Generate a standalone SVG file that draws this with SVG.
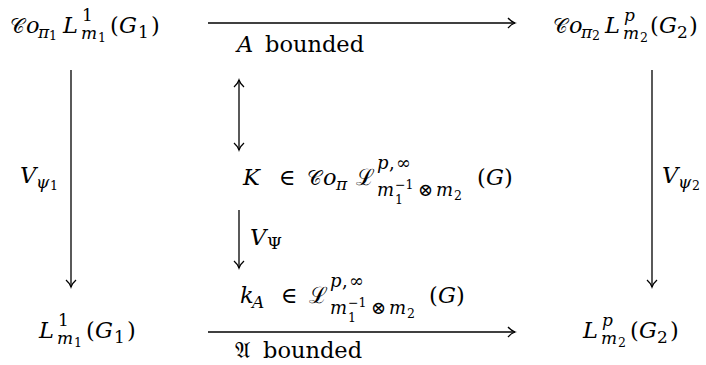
<svg xmlns="http://www.w3.org/2000/svg" width="706" height="365" viewBox="0 0 706 365">
<style>
text{font-family:'DejaVu Serif',serif;font-size:22.5px;fill:#000}
.i{font-style:italic}
.s{font-size:17px}
.s2{font-size:18px}
.ss{font-size:12.5px}
.cal{font-size:19.5px}
.e{stroke:#000;stroke-width:1.3;fill:none}
</style>
<defs>
<marker id="ah" markerWidth="14" markerHeight="14" refX="10.5" refY="6.5" orient="auto-start-reverse" markerUnits="userSpaceOnUse">
<path d="M3.5,1.5 C5.5,3.8 8.5,5.8 10.5,6.5 C8.5,7.2 5.5,9.2 3.5,11.5" fill="none" stroke="#000" stroke-width="1.3"/>
</marker>
</defs>
<rect width="706" height="365" fill="#fff"/>
<g id="connectors">
<path class="e" d="M208,23 H515" marker-end="url(#ah)"/>
<path class="e" d="M208,332 H515" marker-end="url(#ah)"/>
<path class="e" d="M71,70 V287" marker-end="url(#ah)"/>
<path class="e" d="M652,70 V287" marker-end="url(#ah)"/>
<path class="e" d="M239,80 V150" marker-start="url(#ah)" marker-end="url(#ah)"/>
<path class="e" d="M239,210 V268" marker-end="url(#ah)"/>
</g>
<g id="n-top-left">
<text><tspan class="cal" x="10" y="33">𝒞</tspan><tspan class="i" x="26" y="33">o</tspan><tspan class="i s" x="38" y="38">π</tspan><tspan class="ss" x="49" y="40">1</tspan><tspan class="i" x="63" y="33">L</tspan><tspan class="s" x="82" y="21">1</tspan><tspan class="i s" x="81" y="39">m</tspan><tspan class="ss" x="98" y="42">1</tspan><tspan x="110" y="33">(</tspan><tspan class="i" x="119" y="33">G</tspan><tspan class="s" x="138" y="38">1</tspan><tspan x="151" y="33">)</tspan></text>
</g>
<g id="n-top-right">
<text><tspan class="cal" x="553" y="33">𝒞</tspan><tspan class="i" x="569" y="33">o</tspan><tspan class="i s" x="581" y="38">π</tspan><tspan class="ss" x="592" y="40">2</tspan><tspan class="i" x="605" y="33">L</tspan><tspan class="i s" x="624" y="21">p</tspan><tspan class="i s" x="623" y="39">m</tspan><tspan class="ss" x="640" y="42">2</tspan><tspan x="650" y="33">(</tspan><tspan class="i" x="659" y="33">G</tspan><tspan class="s" x="677" y="38">2</tspan><tspan x="689" y="33">)</tspan></text>
</g>
<g id="label-top">
<text><tspan class="i" x="237" y="52">A</tspan><tspan x="265" y="52">bounded</tspan></text>
</g>
<g id="label-left">
<text><tspan class="i" x="20" y="183">V</tspan><tspan class="i s" x="36" y="188">ψ</tspan><tspan class="ss" x="50" y="190">1</tspan></text>
</g>
<g id="label-right">
<text><tspan class="i" x="662" y="183">V</tspan><tspan class="i s" x="678" y="188">ψ</tspan><tspan class="ss" x="692" y="190">2</tspan></text>
</g>
<g id="n-K">
<text><tspan class="i" x="243" y="185">K</tspan><tspan x="279" y="185">∈</tspan><tspan class="cal" x="307" y="185">𝒞</tspan><tspan class="i" x="323" y="185">o</tspan><tspan class="i s" x="336" y="190">π</tspan><tspan x="356" y="185">ℒ</tspan><tspan class="i s2" x="377" y="169">p</tspan><tspan class="s2" x="389" y="169">,</tspan><tspan class="s2" x="396" y="169">∞</tspan><tspan class="i s2" x="377" y="196">m</tspan><tspan class="ss" x="395" y="189">−1</tspan><tspan class="ss" x="395" y="204">1</tspan><tspan class="s2" x="418" y="196">⊗</tspan><tspan class="i s2" x="436" y="196">m</tspan><tspan class="ss" x="454" y="200">2</tspan><tspan x="477" y="185">(</tspan><tspan class="i" x="486" y="185">G</tspan><tspan x="504" y="185">)</tspan></text>
</g>
<g id="label-VPsi">
<text><tspan class="i" x="250" y="245">V</tspan><tspan class="s" x="267" y="249">Ψ</tspan></text>
</g>
<g id="n-kA">
<text><tspan class="i" x="240" y="303">k</tspan><tspan class="i s" x="252" y="308">A</tspan><tspan x="281" y="303">∈</tspan><tspan x="309" y="303">ℒ</tspan><tspan class="i s2" x="330" y="287">p</tspan><tspan class="s2" x="342" y="287">,</tspan><tspan class="s2" x="349" y="287">∞</tspan><tspan class="i s2" x="330" y="314">m</tspan><tspan class="ss" x="348" y="307">−1</tspan><tspan class="ss" x="348" y="322">1</tspan><tspan class="s2" x="371" y="314">⊗</tspan><tspan class="i s2" x="389" y="314">m</tspan><tspan class="ss" x="407" y="318">2</tspan><tspan x="429" y="303">(</tspan><tspan class="i" x="438" y="303">G</tspan><tspan x="456" y="303">)</tspan></text>
</g>
<g id="n-bottom-left">
<text><tspan class="i" x="39" y="338">L</tspan><tspan class="s" x="58" y="326">1</tspan><tspan class="i s" x="57" y="344">m</tspan><tspan class="ss" x="74" y="347">1</tspan><tspan x="86" y="338">(</tspan><tspan class="i" x="95" y="338">G</tspan><tspan class="s" x="114" y="343">1</tspan><tspan x="127" y="338">)</tspan></text>
</g>
<g id="n-bottom-right">
<text><tspan class="i" x="583" y="338">L</tspan><tspan class="i s" x="602" y="326">p</tspan><tspan class="i s" x="601" y="344">m</tspan><tspan class="ss" x="618" y="347">2</tspan><tspan x="630" y="338">(</tspan><tspan class="i" x="639" y="338">G</tspan><tspan class="s" x="657" y="343">2</tspan><tspan x="670" y="338">)</tspan></text>
</g>
<g id="label-bottom">
<text><tspan x="235" y="358">𝔄</tspan><tspan x="263" y="358">bounded</tspan></text>
</g>
</svg>
